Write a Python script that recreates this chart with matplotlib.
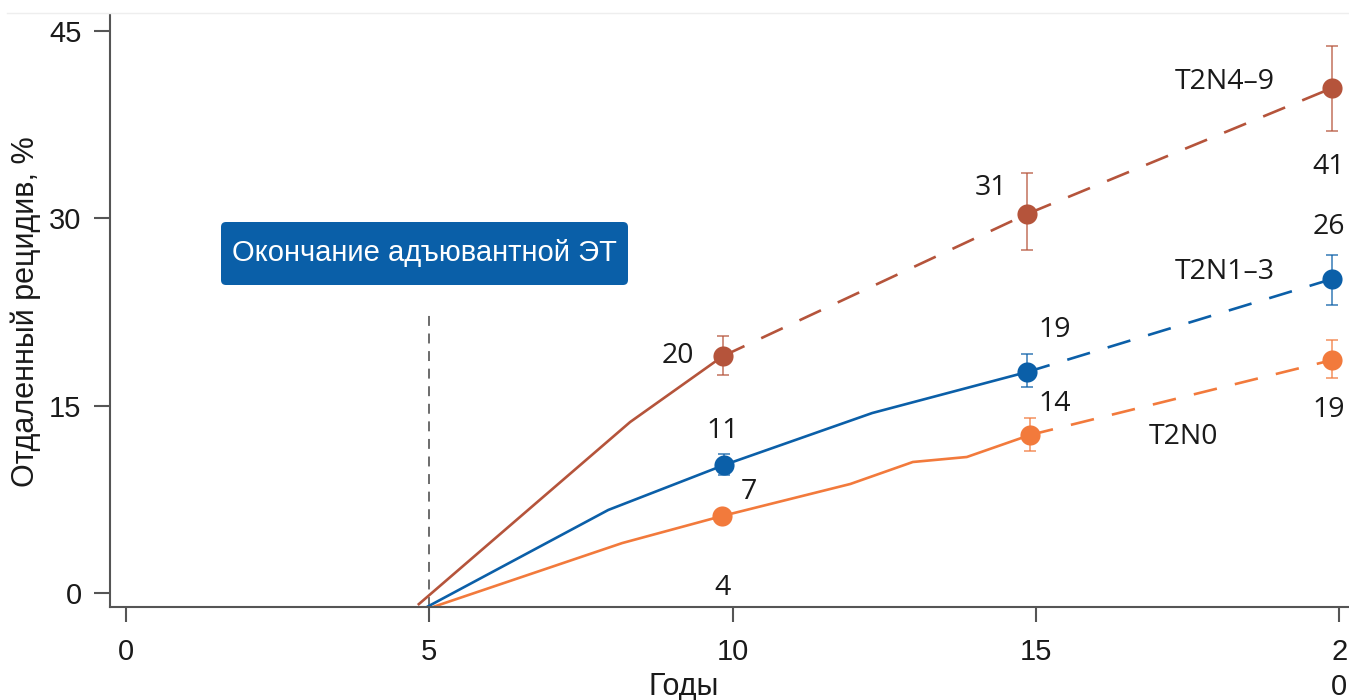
import matplotlib
matplotlib.use("Agg")
import matplotlib.pyplot as plt
from matplotlib.patches import FancyBboxPatch
from matplotlib.lines import Line2D
from matplotlib.transforms import IdentityTransform
import numpy as np

# ---------------- data ----------------
x_ticks = [0, 5, 10, 15, 20]
x_tick_labels = ["0", "5", "10", "15", "2\n0"]
y_ticks = [0, 15, 30, 45]
y_tick_labels = ["0", "15", "30", "45"]

# T2N4-9 (brown)
n49_solid_x = [4.81, 8.31, 9.84]
n49_solid_y = [-0.96, 13.69, 18.97]
n49_dash_x = [9.84, 14.85, 19.88]
n49_dash_y = [18.97, 30.34, 40.43]
n49_pt_x = [9.84, 14.85, 19.88]
n49_pt_y = [18.97, 30.34, 40.43]
n49_lo = [17.45, 27.46, 37.0]
n49_hi = [20.58, 33.6, 43.8]

# T2N1-3 (blue)
n13_solid_x = [4.96, 7.95, 9.86, 12.30, 14.85]
n13_solid_y = [-1.12, 6.65, 10.25, 14.41, 17.69]
n13_dash_x = [14.85, 19.88]
n13_dash_y = [17.69, 25.14]
n13_pt_x = [9.86, 14.85, 19.88]
n13_pt_y = [10.25, 17.69, 25.14]
n13_lo = [9.45, 16.5, 23.1]
n13_hi = [11.13, 19.1, 27.1]

# T2N0 (orange)
n0_solid_x = [5.06, 8.18, 9.83, 11.94, 12.97, 13.86, 14.90]
n0_solid_y = [-1.12, 4.0, 6.17, 8.73, 10.49, 10.89, 12.65]
n0_dash_x = [14.90, 19.88]
n0_dash_y = [12.65, 18.65]
n0_pt_x = [9.83, 14.90, 19.88]
n0_pt_y = [6.17, 12.65, 18.65]
n0_lo = [5.7, 11.37, 17.2]
n0_hi = [6.6, 14.0, 20.26]

value_labels = ["20", "31", "41", "11", "19", "26", "7", "14", "19", "4"]
value_label_pos = [(9.10, 19.0), (14.26, 32.43), (19.83, 34.10),
                   (9.83, 12.96), (15.31, 21.06), (19.83, 29.30),
                   (10.27, 8.09), (15.31, 15.13), (19.83, 14.65),
                   (9.84, 0.4)]
series_names = ["T2N4–9", "T2N1–3", "T2N0"]
series_name_pos = [(18.12, 40.91), (18.12, 25.70), (17.43, 12.49)]

end_of_therapy_x = 5.0
end_of_therapy_top = 22.5
box_text = "Окончание адъювантной ЭТ"

# ---------------- style ----------------
C_BROWN = "#B5543B"
C_BLUE = "#0B5FA8"
C_ORANGE = "#F27A3C"
AX_COLOR = "#555555"
TICK_FONT = ["Liberation Sans", "DejaVu Sans"]
ANN_FONT = ["Open Sans", "DejaVu Sans"]
TXT = "#1a1a1a"

fig = plt.figure(figsize=(13.49, 7.0), dpi=100)
ax = fig.add_axes([110 / 1349, 93 / 700, 1239 / 1349, 592 / 700])
ax.set_xlim(-0.264, 20.16)
ax.set_ylim(-1.12, 46.28)

for s in ["top", "right"]:
    ax.spines[s].set_visible(False)
for s in ["left", "bottom"]:
    ax.spines[s].set_color(AX_COLOR)
    ax.spines[s].set_linewidth(1.5)

ax.set_xticks(x_ticks)
ax.set_xticklabels(x_tick_labels, fontsize=21, family=TICK_FONT, linespacing=1.35,
                   va="top")
ax.set_yticks(y_ticks)
ax.set_yticklabels(y_tick_labels, fontsize=21, family=TICK_FONT)
ax.tick_params(axis="x", length=11, width=1.5, color=AX_COLOR, pad=11, labelcolor=TXT)
ax.tick_params(axis="y", length=11.5, width=1.5, color=AX_COLOR, pad=9, labelcolor=TXT)

ax.set_xlabel("Годы", fontsize=22, family=TICK_FONT, color=TXT)
ax.xaxis.set_label_coords((684 - 110) / 1239, -(687 - 607) / 592, transform=ax.transAxes)
ax.xaxis.label.set_va("center")
ax.set_ylabel("Отдаленный рецидив, %", fontsize=22, family=TICK_FONT, color=TXT)
ax.yaxis.set_label_coords(-(110 - 26) / 1239, (607 - 312) / 592, transform=ax.transAxes)
ax.yaxis.label.set_va("center")

# vertical dashed line
ax.plot([end_of_therapy_x, end_of_therapy_x], [-1.12, end_of_therapy_top],
        color="#444444", lw=1.1, dashes=(6.5, 5))

LW = 1.9
series = [
    (n49_solid_x, n49_solid_y, n49_dash_x, n49_dash_y, n49_pt_x, n49_pt_y, n49_lo, n49_hi, C_BROWN),
    (n13_solid_x, n13_solid_y, n13_dash_x, n13_dash_y, n13_pt_x, n13_pt_y, n13_lo, n13_hi, C_BLUE),
    (n0_solid_x, n0_solid_y, n0_dash_x, n0_dash_y, n0_pt_x, n0_pt_y, n0_lo, n0_hi, C_ORANGE),
]
for sx, sy, dx, dy, px, py, lo, hi, c in series:
    ax.plot(sx, sy, color=c, lw=LW, solid_capstyle="butt")
    ax.plot(dx, dy, color=c, lw=LW, dashes=(9, 7))
    py_a = np.array(py)
    yerr = np.vstack([py_a - np.array(lo), np.array(hi) - py_a])
    ax.errorbar(px, py, yerr=yerr, fmt="none", ecolor=c, alpha=0.7,
                elinewidth=1.3, capsize=4.5, capthick=1.3)
    ax.plot(px, py, "o", color=c, markersize=14.5, markeredgewidth=0, zorder=5)

for t, (x, y) in zip(value_labels, value_label_pos):
    ax.text(x, y, t, fontsize=20.5, family=ANN_FONT, color=TXT,
            ha="center", va="center")
for t, (x, y) in zip(series_names, series_name_pos):
    ax.text(x, y, t, fontsize=20.5, family=ANN_FONT, color=TXT,
            ha="center", va="center")

# annotation box (pixel coordinates)
box = FancyBboxPatch((221, 700 - 285), 407, 63,
                     boxstyle="round,pad=0,rounding_size=5",
                     transform=IdentityTransform(), facecolor="#0A5FA8",
                     edgecolor="none", zorder=6)
fig.patches.append(box)
fig.text(424.5 / 1349, 1 - 253 / 700, box_text, fontsize=21, family=TICK_FONT,
         color="white", ha="center", va="center", zorder=7)

# faint top border line
fig.add_artist(Line2D([0.005, 1], [1 - 13 / 700, 1 - 13 / 700],
                      transform=fig.transFigure, color="#eeeeee", lw=1))

fig.savefig("out.png", dpi=100)
